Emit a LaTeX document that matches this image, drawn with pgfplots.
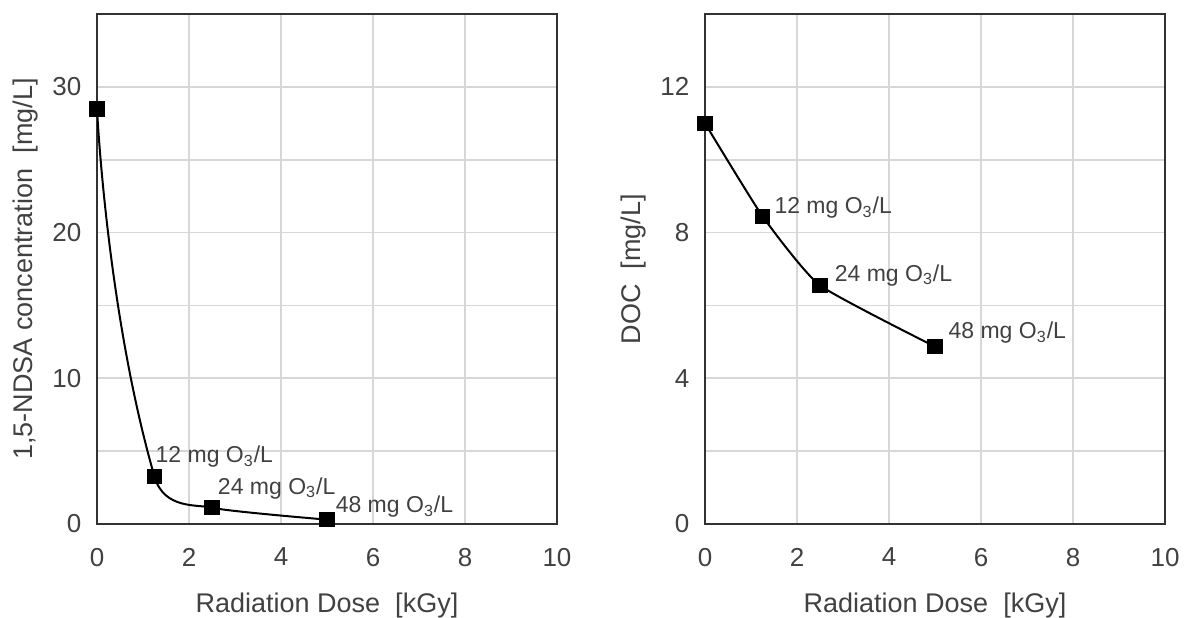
\documentclass[border=0pt]{standalone}
\usepackage{fontspec}
\setmainfont{Liberation Sans}
\usepackage{pgfplots}
\pgfplotsset{compat=1.18}
\definecolor{txt}{RGB}{65,65,65}
\definecolor{frame}{RGB}{50,50,50}
\definecolor{gridc}{RGB}{215,215,215}

\pgfplotsset{
  panel/.style={
    scale only axis, width=230pt, height=255pt,
    xmin=0, xmax=10, xtick={0,2,...,10},
    grid=both,
    major grid style={gridc, line width=0.8pt},
    minor grid style={gridc, line width=0.8pt},
    axis line style={frame, line width=1.4pt},
    major tick length=0pt, minor tick length=0pt,
    ticklabel style={font=\fontsize{13}{15}\selectfont, text=txt},
    /pgf/number format/assume math mode=true,
    xticklabel style={yshift=-8.5pt},
    yticklabel style={xshift=-4.3pt},
    label style={font=\fontsize{13.5}{16}\selectfont, text=txt},
    xlabel style={at={(axis description cs:0.5,-0.159)}, anchor=center},
    ylabel style={at={(axis description cs:-0.156,0.5)}, anchor=center},
    xlabel={Radiation Dose~~[kGy]},
  },
  % hidden helper axis that only carries part of the fitted line
  part/.style={scale only axis, height=255pt, hide axis, clip=true},
  line/.style={black, line width=1pt, smooth, mark=none},
  pts/.style={black, only marks, mark=square*, mark size=3.6pt,
    mark options={solid, fill=black}},
}
\tikzset{
  ann/.style={anchor=west, inner sep=0pt, text=txt,
    font=\fontsize{11.5}{13}\selectfont},
}

\pgfplotstableread{
x y
0 28.5
1.25 3.25
2.5 1.12
5 0.3
}\ndsa
\pgfplotstableread{
x y
0 11.0
1.25 8.45
2.5 6.55
5 4.87
}\doc

\begin{document}
\begin{tikzpicture}
\path[use as bounding box] (-48.5pt,-46.5pt) rectangle (543.5pt,262pt);

% left panel: 1,5-NDSA
\begin{axis}[panel,
  ymin=0, ymax=35, ytick={0,10,20,30}, minor ytick={5,15,25,35},
  ylabel={1,5-NDSA concentration~~[mg/L]},
]
\addplot[pts] table {\ndsa};
\node[ann, xshift=0.4pt, yshift=10pt] at (axis cs:1.25,3.25) {12 mg O\textsubscript{3}/L};
\node[ann, xshift=2.8pt, yshift=9.7pt] at (axis cs:2.5,1.12) {24 mg O\textsubscript{3}/L};
\node[ann, xshift=4.2pt, yshift=6.3pt] at (axis cs:5,0.3) {48 mg O\textsubscript{3}/L};
\end{axis}
% steep first stretch (0 to 1.25) and flat tail (1.25 onwards)
\begin{axis}[part, width=28.75pt, xmin=0, xmax=1.25, ymin=0, ymax=35]
\addplot[line, tension=1.5] table {\ndsa};
\end{axis}
\begin{axis}[part, at={(28.75pt,0)}, width=201.25pt, xmin=1.25, xmax=10, ymin=0, ymax=35]
\addplot[line, tension=0.3] table {\ndsa};
\end{axis}

% right panel: DOC
\begin{axis}[panel, at={(304pt,0)},
  ymin=0, ymax=14, ytick={0,4,8,12}, minor ytick={2,6,10,14},
  ylabel={DOC~~[mg/L]},
]
\addplot[line, tension=0.3] table {\doc};
\addplot[pts] table {\doc};
\node[ann, xshift=5.8pt, yshift=4.2pt] at (axis cs:1.25,8.45) {12 mg O\textsubscript{3}/L};
\node[ann, xshift=7.2pt, yshift=5pt] at (axis cs:2.5,6.55) {24 mg O\textsubscript{3}/L};
\node[ann, xshift=6.6pt, yshift=7pt] at (axis cs:5,4.87) {48 mg O\textsubscript{3}/L};
\end{axis}
\end{tikzpicture}
\end{document}
